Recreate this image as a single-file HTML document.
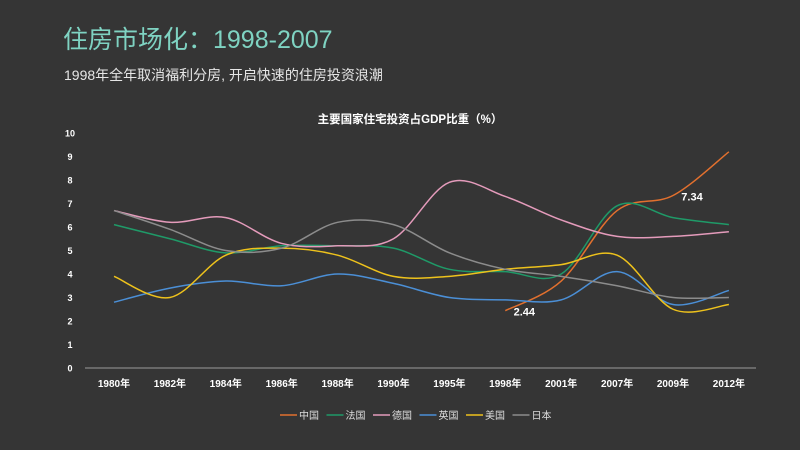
<!DOCTYPE html>
<html><head><meta charset="utf-8"><style>
body{margin:0;background:#353535;width:800px;height:450px;overflow:hidden;font-family:"Liberation Sans","Noto Sans CJK SC",sans-serif;}
svg{position:absolute;left:0;top:0}
</style></head><body>
<svg id="c" width="800" height="450">
<text x="63" y="48" fill="#7fd3c2" font-size="25" font-family="Liberation Sans,Noto Sans CJK SC,sans-serif">住房市场化：1998-2007</text>
<text x="64" y="80" fill="#e6e6e6" font-size="14" font-family="Liberation Sans,Noto Sans CJK SC,sans-serif">1998年全年取消福利分房, 开启快速的住房投资浪潮</text>
<text x="410" y="123" fill="#fff" font-size="11.5" font-weight="bold" text-anchor="middle" font-family="Liberation Sans,Noto Sans CJK SC,sans-serif">主要国家住宅投资占GDP比重（%）</text>
<g id="axes"></g><g id="series"></g><g id="legend"></g>
</svg>
<script>
const categories=["1980年","1982年","1984年","1986年","1988年","1990年","1995年","1998年","2001年","2007年","2009年","2012年"];
const yTicks=[0,1,2,3,4,5,6,7,8,9,10];
const seriesNames=["中国","法国","德国","英国","美国","日本"];
const china=[null,null,null,null,null,null,null,2.44,3.7,6.7,7.34,9.2];
const france=[6.1,5.5,4.9,5.2,5.2,5.1,4.2,4.1,4.0,6.9,6.4,6.1];
const germany=[6.7,6.2,6.4,5.3,5.2,5.5,7.9,7.3,6.3,5.6,5.6,5.8];
const uk=[2.8,3.4,3.7,3.5,4.0,3.6,3.0,2.9,2.9,4.1,2.7,3.3];
const us=[3.9,3.0,4.8,5.1,4.8,3.9,3.9,4.2,4.4,4.8,2.5,2.7];
const japan=[6.7,5.9,5.0,5.1,6.2,6.1,4.9,4.2,3.9,3.5,3.0,3.0];
const labels=[{s:0,i:7,t:"2.44"},{s:0,i:10,t:"7.34"}];
const colors=["#e2702e","#1f9a68","#e49bbb","#4b8fd6","#eec21c","#8c8c8c"];
const allSeries=[china,france,germany,uk,us,japan];
const NS="http://www.w3.org/2000/svg";
const x=i=>114+i*55.9, y=v=>368-v*23.5;
function mk(t,a,p){const e=document.createElementNS(NS,t);for(const k in a)e.setAttribute(k,a[k]);p.appendChild(e);return e;}
const ax=document.getElementById('axes');
const base=mk('line',{x1:85,x2:756,y1:368,y2:368,stroke:'#9a9a9a','stroke-width':1},ax);


yTicks.forEach(v=>{const t=mk('text',{x:70,y:y(v)+3.5,fill:'#fff','font-size':9,'font-weight':'bold','text-anchor':'middle'},ax);t.textContent=v;

});
categories.forEach((c,i)=>{const t=mk('text',{x:x(i),y:387,fill:'#fff','font-size':10,'font-weight':'bold','text-anchor':'middle'},ax);t.textContent=c;

});
const sg=document.getElementById('series');
allSeries.forEach((d,s)=>{const pts=[];d.forEach((v,i)=>{if(v!=null)pts.push([x(i),y(v)]);});
let p='M'+pts[0][0]+','+pts[0][1];
for(let k=0;k<pts.length-1;k++){const p0=pts[k-1]||pts[k],p1=pts[k],p2=pts[k+1],p3=pts[k+2]||p2;const tt=0.5/3;
p+=` C${p1[0]+(p2[0]-p0[0])*tt},${p1[1]+(p2[1]-p0[1])*tt} ${p2[0]-(p3[0]-p1[0])*tt},${p2[1]-(p3[1]-p1[1])*tt} ${p2[0]},${p2[1]}`;}
const e=mk('path',{d:p,fill:'none',stroke:colors[s],'stroke-width':1.5},sg);

});
labels.forEach(l=>{const t=mk('text',{x:x(l.i)+19,y:y(allSeries[l.s][l.i])+5,fill:'#fff','font-size':11,'font-weight':'bold','text-anchor':'middle'},sg);t.textContent=l.t;

});
const lg=document.getElementById('legend');
seriesNames.forEach((n,s)=>{const lx=280+s*46.5;const g=mk('g',{},lg);


mk('line',{x1:lx,x2:lx+17,y1:415,y2:415,stroke:colors[s],'stroke-width':1.5},g);
const t=mk('text',{x:lx+19,y:419,fill:'#ddd','font-size':10},g);t.textContent=n;});
</script>
</body></html>
